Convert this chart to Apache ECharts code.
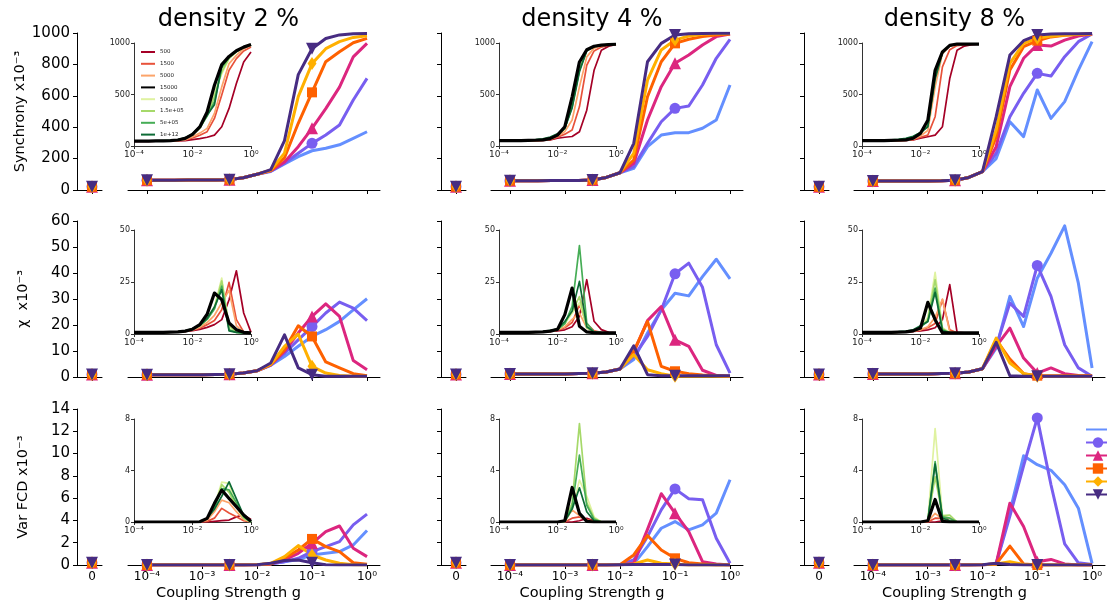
<!DOCTYPE html>
<html><head><meta charset="utf-8">
<script src="https://cdn.jsdelivr.net/npm/echarts@6/dist/echarts.min.js"></script>
<style>html,body{margin:0;padding:0;background:#fff}#c{width:1107px;height:605px}</style>
</head><body><div id="c"></div>
<script>
// log10 of coupling strength g (quarter-decade grid)
const gExp = [-4,-3.75,-3.5,-3.25,-3,-2.75,-2.5,-2.25,-2,-1.75,-1.5,-1.25,-1,-0.75,-0.5,-0.25,0];
const markIdx = [0, 6, 12];
const densities = ['density 2 %','density 4 %','density 8 %'];
const rowLabels = ['Synchrony x10\u207B\u00B3','\u03C7  x10\u207B\u00B3','Var FCD x10\u207B\u00B3'];
const mainNames = ['m1','m2','m3','m4','m5','m6'];
const insetNames = ['500','1500','5000','15000','50000','1.5e+05','5e+05','1e+12'];
const zeroVals = [[20,21,20],[1.0,1.0,1.0],[0.2,0.2,0.2]];

// Synchrony (x1e-3), series order: blue, purple(circle), pink(tri), orange(square), amber(diamond), indigo(tri-down)
const sync_d2 = [
 [62,62,62,63,63,64,66,78,100,118,166,212,250,266,288,329,371],
 [62,62,62,63,63,64,66,78,100,120,170,234,297,350,414,573,711],
 [62,62,62,63,63,64,66,78,100,122,178,276,393,518,655,848,934],
 [62,62,62,63,63,64,66,78,100,124,205,425,622,817,880,938,966],
 [62,62,62,63,63,64,66,78,100,127,235,595,805,900,945,972,983],
 [62,62,62,63,63,64,66,78,100,130,315,735,900,965,988,995,997]];
const sync_d4 = [
 [59,59,59,60,60,61,64,80,110,138,276,350,365,365,393,446,669],
 [59,59,59,60,60,61,64,80,110,149,297,435,520,535,669,839,960],
 [59,59,59,60,60,61,64,80,110,170,446,658,807,860,924,977,994],
 [59,59,59,60,60,61,64,80,110,191,594,817,934,960,977,987,994],
 [59,59,59,60,60,61,64,80,110,234,700,892,955,981,992,995,997],
 [59,59,59,60,60,61,64,80,110,297,817,934,987,995,997,998,998]];
const sync_d8 = [
 [57,57,57,58,58,59,62,80,117,200,435,340,637,456,563,764,945],
 [57,57,57,58,58,59,62,80,117,234,467,616,743,726,849,945,994],
 [57,57,57,58,58,59,62,80,117,276,658,839,924,917,955,981,994],
 [57,57,57,58,58,59,62,80,117,340,764,913,951,975,985,990,994],
 [57,57,57,58,58,59,62,80,117,382,807,934,966,980,988,992,995],
 [57,57,57,58,58,59,62,80,117,467,860,951,987,993,995,996,997]];
const chi_d2 = [
 [0.9,0.9,0.9,0.9,0.9,1.0,1.1,1.5,2.4,4.5,7.9,11.8,15.6,18.2,21.4,25.8,30.1],
 [0.9,0.9,0.9,0.9,0.9,1.0,1.1,1.5,2.4,4.6,9.2,14.3,19.4,24.6,28.8,26.5,21.7],
 [0.9,0.9,0.9,0.9,0.9,1.0,1.1,1.5,2.4,4.7,9.9,16.9,23.3,28.1,23.3,6.3,2.8],
 [0.9,0.9,0.9,0.9,0.9,1.0,1.1,1.5,2.4,4.8,10.5,19.7,15.6,5.8,3.5,1.3,0.5],
 [0.9,0.9,0.9,0.9,0.9,1.0,1.1,1.5,2.4,4.9,11.8,16.5,4.1,1.5,0.6,0.3,0.3],
 [0.9,0.9,0.9,0.9,0.9,1.0,1.1,1.5,2.4,5.4,16.2,3.5,0.9,0.3,0.3,0.3,0.3]];
const chi_d4 = [
 [1.2,1.2,1.2,1.2,1.2,1.3,1.4,1.9,3.1,6.7,16.9,25.8,32.2,31.2,38.6,45.3,37.7],
 [1.2,1.2,1.2,1.2,1.2,1.3,1.4,1.9,3.1,7.9,15.6,25.8,39.7,43.8,34.5,12.4,1.5],
 [1.2,1.2,1.2,1.2,1.2,1.3,1.4,1.9,3.1,9.5,21.7,27.1,14.3,11.8,2.6,0.6,0.3],
 [1.2,1.2,1.2,1.2,1.2,1.3,1.4,1.9,3.1,9.9,21.4,4.1,2.2,1.3,0.8,0.5,0.3],
 [1.2,1.2,1.2,1.2,1.2,1.3,1.4,1.9,3.1,8.6,2.8,1.3,0.3,0.3,0.3,0.3,0.3],
 [1.2,1.2,1.2,1.2,1.2,1.3,1.4,1.9,3.1,12.0,0.9,0.5,0.5,0.5,0.5,0.5,0.5]];
const chi_d8 = [
 [1.2,1.2,1.2,1.2,1.2,1.3,1.4,1.9,3.2,11.1,31.0,19.4,38.0,47.6,58.1,36.1,3.5],
 [1.2,1.2,1.2,1.2,1.2,1.3,1.4,1.9,3.2,11.8,28.4,23.3,42.9,31.0,12.4,3.5,0.3],
 [1.2,1.2,1.2,1.2,1.2,1.3,1.4,1.9,3.2,11.8,18.8,7.3,1.5,3.5,1.3,0.6,0.3],
 [1.2,1.2,1.2,1.2,1.2,1.3,1.4,1.9,3.2,14.3,6.9,1.3,0.5,0.5,0.5,0.5,0.5],
 [1.2,1.2,1.2,1.2,1.2,1.3,1.4,1.9,3.2,15.0,5.4,1.3,0.3,0.3,0.3,0.3,0.3],
 [1.2,1.2,1.2,1.2,1.2,1.3,1.4,1.9,3.2,13.3,0.5,0.3,0.3,0.3,0.3,0.3,0.3]];
const var_d2 = [
 [0,0,0,0,0,0,0,0,0.02,0.1,0.3,0.5,0.9,1.05,1.2,1.8,3.1],
 [0,0,0,0,0,0,0,0,0.02,0.1,0.3,0.6,1.2,1.65,2.1,3.6,4.56],
 [0,0,0,0,0,0,0,0,0.02,0.1,0.45,1.05,1.95,3.0,3.5,1.5,0.75],
 [0,0,0,0,0,0,0,0,0.02,0.1,0.6,1.35,2.34,1.65,1.2,0.2,0.06],
 [0,0,0,0,0,0,0,0,0.02,0.15,0.75,1.74,0.9,0.45,0.15,0.02,0],
 [0,0,0,0,0,0,0,0,0.02,0.15,0.4,0.45,0.2,0.02,0,0,0]];
const var_d4 = [
 [0,0,0,0,0,0,0,0,0.02,0.1,1.65,3.3,3.9,3.15,3.6,4.65,7.65],
 [0,0,0,0,0,0,0,0,0.02,0.45,2.55,4.95,6.83,5.94,5.85,2.4,0.15],
 [0,0,0,0,0,0,0,0,0.02,0.15,3.2,6.4,4.65,3.0,0.3,0.1,0],
 [0,0,0,0,0,0,0,0,0.02,0.9,2.64,1.35,0.6,0.2,0.1,0,0],
 [0,0,0,0,0,0,0,0,0.02,0.1,0.45,0.15,0.1,0,0,0,0],
 [0,0,0,0,0,0,0,0,0.02,0.05,0.05,0.05,0.05,0,0,0,0]];
const var_d8 = [
 [0,0,0,0,0,0,0,0,0.02,0.1,4.8,9.8,9.0,8.5,7.2,5.1,0.15],
 [0,0,0,0,0,0,0,0,0.02,0.1,4.4,8.9,13.2,7.2,1.9,0.2,0.05],
 [0,0,0,0,0,0,0,0,0.02,0.1,5.55,3.45,0.3,0.5,0.1,0,0],
 [0,0,0,0,0,0,0,0,0.02,0.1,1.7,0.1,0,0,0,0,0],
 [0,0,0,0,0,0,0,0,0.02,0.1,0.3,0.05,0,0,0,0,0],
 [0,0,0,0,0,0,0,0,0.02,0.15,0.05,0,0,0,0,0,0]];

// Inset series: 500,1500,5000,15000,50000,1.5e+05,5e+05,1e+12
const inSync_d2 = [
 [45,45,45,46,46,47,49,53,62,72,85,106,187,365,606,816,913],
 [46,46,46,47,47,48,51,58,78,105,139,268,494,735,848,922,961],
 [47,47,47,48,48,50,53,62,90,125,171,316,574,800,880,945,977],
 [48,48,48,49,50,52,58,74,112,185,330,590,790,870,925,960,985],
 [48,48,48,49,50,52,58,74,110,178,310,520,700,850,915,958,982],
 [48,48,48,49,50,52,58,75,110,172,295,480,720,852,915,958,982],
 [48,48,49,50,51,54,60,78,115,180,290,430,760,860,918,960,983],
 [48,48,49,50,52,55,62,80,118,190,300,400,780,865,920,962,984]];
const inSync_d4 = [
 [50,50,50,50,51,52,54,60,75,85,92,139,348,735,929,968,987],
 [50,50,50,51,51,52,55,62,85,115,155,380,784,923,960,980,987],
 [51,51,51,52,52,53,57,66,95,140,252,574,865,950,975,985,988],
 [52,52,52,53,54,56,60,72,106,187,477,816,935,968,980,985,988],
 [52,52,52,53,54,56,61,74,108,175,420,760,925,965,980,985,988],
 [52,52,53,54,55,57,62,76,110,170,400,740,925,965,980,985,988],
 [52,52,53,54,56,59,65,80,115,170,380,735,930,968,980,985,988],
 [52,53,54,56,58,62,70,86,118,175,370,720,925,965,980,985,988]];
const inSync_d8 = [
 [50,50,50,50,51,52,54,60,75,90,106,187,655,929,970,985,990],
 [50,50,50,51,51,52,55,62,85,106,284,768,935,975,985,988,990],
 [51,51,51,52,52,53,57,66,100,150,574,897,970,985,988,990,990],
 [52,52,52,53,54,56,60,75,123,250,735,913,977,990,990,990,990],
 [52,52,53,54,55,57,62,78,120,220,700,913,977,988,990,990,990],
 [52,52,53,54,56,59,64,82,125,205,690,913,977,988,990,990,990],
 [52,53,54,56,58,62,70,90,130,190,671,913,977,988,990,990,990],
 [52,53,55,57,60,65,75,95,130,187,650,905,975,988,990,990,990]];
const inChi_d2 = [
 [0.8,0.8,0.8,0.8,0.8,0.9,1.0,1.2,1.6,2.2,3.2,4.5,6.9,16.5,30.4,10.1,0.8],
 [0.8,0.8,0.8,0.8,0.8,0.9,1.0,1.3,1.8,2.8,4.5,6.5,11.7,24.8,6.9,1.0,0.5],
 [0.8,0.8,0.8,0.8,0.8,0.9,1.0,1.3,2.0,3.3,5.5,9.0,15.0,21.0,4.0,0.8,0.5],
 [0.8,0.8,0.8,0.8,0.8,0.9,1.0,1.4,2.3,4.5,9.5,19.7,16.5,5.3,2.1,0.8,0.5],
 [0.8,0.8,0.8,0.8,0.8,0.9,1.0,1.4,2.2,3.8,7.5,13.0,26.9,3.0,0.8,0.5,0.5],
 [0.8,0.8,0.8,0.8,0.8,0.9,1.0,1.4,2.3,4.0,7.2,12.5,25.5,4.0,1.0,0.5,0.5],
 [0.8,0.8,0.8,0.8,0.8,0.9,1.0,1.4,2.4,4.1,7.0,12.0,23.0,2.0,0.8,0.5,0.5],
 [0.8,0.8,0.8,0.8,0.8,0.9,1.0,1.5,2.6,4.3,7.5,13.0,21.3,1.5,0.8,0.5,0.5]];
const inChi_d4 = [
 [0.8,0.8,0.8,0.8,0.8,0.9,1.0,1.2,1.5,2.0,3.5,8.5,26.1,6.1,2.1,0.8,0.5],
 [0.8,0.8,0.8,0.8,0.8,0.9,1.0,1.3,1.8,3.0,5.5,14.0,5.0,1.5,0.8,0.5,0.5],
 [0.8,0.8,0.8,0.8,0.8,0.9,1.0,1.3,2.0,3.5,7.0,10.0,3.0,1.0,0.6,0.5,0.5],
 [0.8,0.8,0.8,0.8,0.8,0.9,1.0,1.4,2.2,9.3,22.1,3.7,1.0,0.6,0.5,0.5,0.5],
 [0.8,0.8,0.8,0.8,0.8,0.9,1.0,1.4,2.0,5.0,10.0,15.0,4.0,1.0,0.6,0.5,0.5],
 [0.8,0.8,0.8,0.8,0.8,0.9,1.0,1.4,2.0,5.0,11.0,18.0,3.0,1.0,0.6,0.5,0.5],
 [0.8,0.8,0.8,0.8,0.8,0.9,1.0,1.5,2.2,5.0,13.3,42.5,5.3,1.0,0.6,0.5,0.5],
 [0.8,0.8,0.8,0.8,0.9,1.0,1.2,1.7,2.5,6.0,11.0,25.3,3.5,1.0,0.6,0.5,0.5]];
const inChi_d8 = [
 [0.8,0.8,0.8,0.8,0.8,0.9,1.0,1.2,1.5,2.0,3.0,6.9,23.7,0.8,0.5,0.5,0.5],
 [0.8,0.8,0.8,0.8,0.8,0.9,1.0,1.3,2.0,3.0,5.0,16.5,2.0,0.6,0.5,0.5,0.5],
 [0.8,0.8,0.8,0.8,0.8,0.9,1.0,1.4,2.0,3.5,8.0,16.8,1.0,0.6,0.5,0.5,0.5],
 [0.8,0.8,0.8,0.8,0.8,0.9,1.0,1.5,2.9,15.2,6.9,0.5,0.5,0.5,0.5,0.5,0.5],
 [0.8,0.8,0.8,0.8,0.8,0.9,1.0,1.5,3.0,8.0,29.6,3.0,0.6,0.5,0.5,0.5,0.5],
 [0.8,0.8,0.8,0.8,0.8,0.9,1.0,1.6,3.0,7.0,26.1,2.5,0.6,0.5,0.5,0.5,0.5],
 [0.8,0.8,0.8,0.8,0.9,1.0,1.2,1.8,3.5,6.0,22.1,2.0,0.6,0.5,0.5,0.5,0.5],
 [0.8,0.8,0.8,0.9,1.0,1.1,1.4,2.0,4.0,6.0,20.0,1.5,0.6,0.5,0.5,0.5,0.5]];
const inVar_d2 = [
 [0,0,0,0,0,0,0,0,0,0,0,0.05,0.1,0.15,0.4,0.55,0.2],
 [0,0,0,0,0,0,0,0,0,0,0.05,0.3,1.06,0.7,0.4,0.1,0],
 [0,0,0,0,0,0,0,0,0,0,0.15,0.8,1.7,1.5,0.8,0.2,0],
 [0,0,0,0,0,0,0,0,0,0.02,0.28,1.45,2.48,1.83,1.19,0.54,0.05],
 [0,0,0,0,0,0,0,0,0,0.02,0.3,1.2,3.1,3.0,1.2,0.3,0],
 [0,0,0,0,0,0,0,0,0,0.02,0.3,1.2,2.9,2.3,1.2,0.3,0],
 [0,0,0,0,0,0,0,0,0,0.02,0.3,1.1,2.6,2.5,1.5,0.4,0],
 [0,0,0,0,0,0,0,0,0,0.02,0.3,1.0,2.0,3.12,1.8,0.5,0]];
const inVar_d4 = [
 [0,0,0,0,0,0,0,0,0,0,0,0.1,0.28,0.1,0,0,0],
 [0,0,0,0,0,0,0,0,0,0,0.3,0.4,0.2,0.05,0,0,0],
 [0,0,0,0,0,0,0,0,0,0.05,0.93,0.5,0.1,0,0,0,0],
 [0,0,0,0,0,0,0,0,0,0.1,2.68,0.67,0.05,0,0,0,0],
 [0,0,0,0,0,0,0,0,0,0.05,1.0,3.25,2.0,0.4,0,0,0],
 [0,0,0,0,0,0,0,0,0,0.05,1.5,7.64,1.5,0.3,0,0,0],
 [0,0,0,0,0,0,0,0,0,0.05,1.2,5.19,1.3,0.2,0,0,0],
 [0,0,0,0,0,0,0,0,0,0.05,1.0,2.66,0.8,0.1,0,0,0]];
const inVar_d8 = [
 [0,0,0,0,0,0,0,0,0,0,0,0.1,0.3,0,0,0,0],
 [0,0,0,0,0,0,0,0,0,0,0.3,0.28,0.05,0,0,0,0],
 [0,0,0,0,0,0,0,0,0,0.05,0.67,0.2,0,0,0,0,0],
 [0,0,0,0,0,0,0,0,0,0.1,1.75,0.05,0,0,0,0,0],
 [0,0,0,0,0,0,0,0,0,0.1,7.25,0.5,0.3,0,0,0,0],
 [0,0,0,0,0,0,0,0,0,0.1,3.5,0.5,0.54,0,0,0,0],
 [0,0,0,0,0,0,0,0,0,0.1,4.7,0.4,0.3,0,0,0,0],
 [0,0,0,0,0,0,0,0,0,0.1,4.5,0.3,0.1,0,0,0,0]];

const mainData = [[sync_d2,sync_d4,sync_d8],[chi_d2,chi_d4,chi_d8],[var_d2,var_d4,var_d8]];
const insetData = [[inSync_d2,inSync_d4,inSync_d8],[inChi_d2,inChi_d4,inChi_d8],[inVar_d2,inVar_d4,inVar_d8]];

const mainColors = ['#648FFF','#785EF0','#DC267F','#FE6100','#FFB000','#472C82'];
const mainSymbols = ['none','circle','triangle','rect','diamond','triangle'];
const mainSizes = [0, 11, 12, 10, [9,13], 12];
const mainRot = [0,0,0,0,0,180];
const insetColors = ['#a50026','#e8523a','#fca46a','#000000','#dff2a0','#a6d96a','#46ad56','#0d6b36'];

const F = 'DejaVu Sans';
const SUP = {'-':'\u207B','0':'\u2070','1':'\u00B9','2':'\u00B2','3':'\u00B3','4':'\u2074'};
const sup = v => String(v).split('').map(ch => SUP[ch] || ch).join('');
const plain = v => String(v);

const rowTop = [33,221,409], rowH = [157,156,156];
const colZero = [77,441,804], colMain = [128,491,854], mainW = [252,252,251];
const colInset = [134,499,862], insetTop = [43,230,419], insetH = [103,104,103];
const yMax = [1000,60,14], yInt = [200,10,2], insetMax = [1000,50,8];

const grids = [], xAxes = [], yAxes = [], series = [], graphics = [];
const axLine = {show:true, onZero:false, lineStyle:{color:'#000', width:1}};
const inLine = {show:true, onZero:false, lineStyle:{color:'#333', width:1}};

for (let r = 0; r < 3; r++) {
  for (let c = 0; c < 3; c++) {
    const gi = grids.length;
    // zero panel
    grids.push({left: colZero[c], top: rowTop[r], width: 25, height: rowH[r]});
    xAxes.push({gridIndex: gi, type:'value', min:-1.5, max:1, axisLine: axLine,
      axisTick:{show:true, length:4, customValues:[0], lineStyle:{color:'#000'}},
      axisLabel:{show: r===2, customValues:[0], formatter: () => '0', fontSize:12, margin:6, color:'#000', fontFamily:F},
      splitLine:{show:false}});
    yAxes.push({gridIndex: gi, type:'value', min:0, max:yMax[r], interval:yInt[r], axisLine: axLine,
      axisTick:{show:true, length:4, lineStyle:{color:'#000'}},
      axisLabel:{show: c===0, formatter: plain, fontSize:15, margin:7, color:'#000', fontFamily:F},
      splitLine:{show:false},
      name: c===0 ? rowLabels[r] : '', nameLocation:'middle', nameGap:46,
      nameTextStyle:{fontSize:14.5, color:'#000', fontFamily:F}});
    // main log panel
    grids.push({left: colMain[c], top: rowTop[r], width: mainW[c], height: rowH[r]});
    xAxes.push({gridIndex: gi+1, type:'value', min:-4.345, max:0.236, axisLine: axLine,
      axisTick:{show:true, length:4, customValues:[-4,-3,-2,-1,0], lineStyle:{color:'#000'}},
      axisLabel:{show: r===2, customValues:[-4,-3,-2,-1,0], formatter: v => '10' + sup(v), fontSize:12, margin:6, color:'#000', fontFamily:F},
      splitLine:{show:false}});
    yAxes.push({gridIndex: gi+1, type:'value', min:0, max:yMax[r], show:false, splitLine:{show:false}});
    // inset panel
    grids.push({left: colInset[c], top: insetTop[r], width: 117, height: insetH[r]});
    xAxes.push({gridIndex: gi+2, type:'value', min:-4, max:0, axisLine: inLine,
      axisTick:{show:true, length:3, customValues:[-4,-2,0], lineStyle:{color:'#333'}},
      axisLabel:{show:true, customValues:[-4,-2,0], formatter: v => '10' + sup(v), fontSize:9, margin:4, color:'#222', fontFamily:F},
      splitLine:{show:false}});
    yAxes.push({gridIndex: gi+2, type:'value', min:0, max:insetMax[r], interval:insetMax[r]/2, axisLine: inLine,
      axisTick:{show:true, length:3, lineStyle:{color:'#333'}},
      axisLabel:{show:true, formatter: plain, fontSize:8, margin:4, color:'#222', fontFamily:F},
      splitLine:{show:false}});

    const md = mainData[r][c];
    for (let k = 0; k < 6; k++) {
      series.push({type:'line', name: mainNames[k], xAxisIndex: gi+1, yAxisIndex: gi+1,
        symbol: mainSymbols[k], symbolSize: mainSizes[k], symbolRotate: mainRot[k], showSymbol: true,
        data: gExp.map((e, i) => ({value:[e, md[k][i]], symbol: markIdx.includes(i) ? mainSymbols[k] : 'none'})),
        lineStyle:{color: mainColors[k], width:3, join:'round'}, itemStyle:{color: mainColors[k]},
        color: mainColors[k], silent:true, animation:false});
    }
    for (let k = 1; k < 6; k++) {
      series.push({type:'line', name: mainNames[k], xAxisIndex: gi, yAxisIndex: gi,
        symbol: mainSymbols[k], symbolSize: mainSizes[k], symbolRotate: mainRot[k], showSymbol: true,
        data: [[0, zeroVals[r][c]]], itemStyle:{color: mainColors[k]}, lineStyle:{color: mainColors[k], width:3},
        color: mainColors[k], silent:true, animation:false});
    }
    const idt = insetData[r][c];
    for (let j = 0; j < 8; j++) {
      series.push({type:'line', name: insetNames[j], xAxisIndex: gi+2, yAxisIndex: gi+2,
        symbol:'none', showSymbol:false, z: j===3 ? 3 : 2,
        data: gExp.map((e, i) => [e, idt[j][i]]),
        lineStyle:{color: insetColors[j], width: j===3 ? 3.2 : 1.7, join:'round'}, itemStyle:{color: insetColors[j]},
        color: insetColors[j], silent:true, animation:false});
    }
  }
}

const panelCenter = c => (colZero[c] + colMain[c] + mainW[c]) / 2;
for (let c = 0; c < 3; c++) {
  graphics.push({type:'text', x: panelCenter(c), y: 20, silent:true,
    style:{text: densities[c], fontSize:24, fontFamily:F, fill:'#000', align:'center', verticalAlign:'middle'}});
  graphics.push({type:'text', x: panelCenter(c), y: 593, silent:true,
    style:{text: 'Coupling Strength g', fontSize:14.5, fontFamily:F, fill:'#000', align:'center', verticalAlign:'middle'}});
}

const chart = echarts.init(document.getElementById('c'), null, {renderer:'canvas'});
chart.setOption({
  animation:false,
  backgroundColor:'#fff',
  grid: grids, xAxis: xAxes, yAxis: yAxes, series: series, graphic: graphics,
  legend: [
    {data: insetNames, left:140, top:49, orient:'vertical', itemWidth:14, itemHeight:4, itemGap:5.8,
     padding:0, selectedMode:false, itemStyle:{opacity:0},
     textStyle:{fontSize:5.5, color:'#222', fontFamily:F}},
    {data: mainNames.map((n, k) => k === 0 ? {name:n, itemStyle:{opacity:0}} : n),
     left:1085, top:423, orient:'vertical', itemWidth:24, itemHeight:13, itemGap:1.3,
     padding:0, selectedMode:false, formatter: () => ''}
  ]
});
</script>
</body></html>
